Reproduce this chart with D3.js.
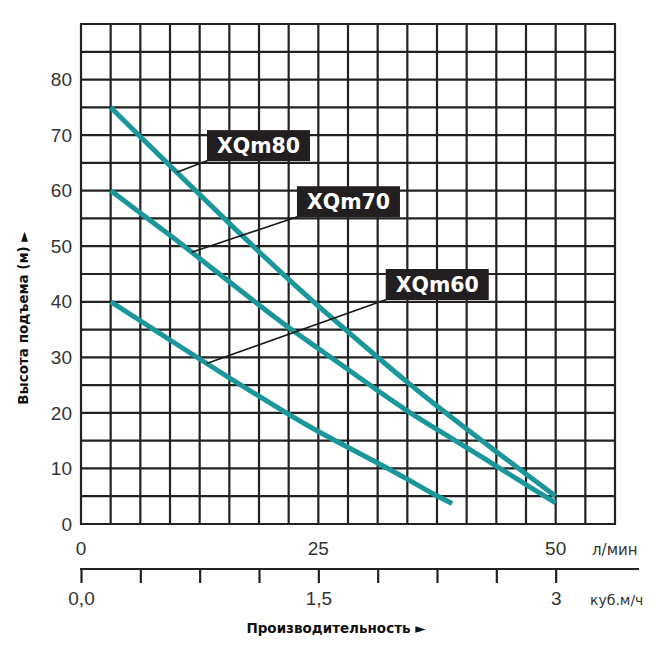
<!DOCTYPE html>
<html>
<head>
<meta charset="utf-8">
<script src="https://cdn.jsdelivr.net/npm/d3@7"></script>
<style>
    body { margin: 0; background: #fff; }
    svg { display: block; }
</style>
</head>
<body>
<div id="chart"></div>
<script>
// curves: flow in l/min, head in m
const flow80 = [3.125, 6.25, 9.375, 12.5, 15.625, 18.75, 21.875, 25, 28.125, 31.25, 34.375, 37.5, 40.625, 43.75, 46.875, 50];
const head80 = [75, 69.7, 64.5, 59.3, 54.1, 49, 44, 39.2, 34.6, 30, 25.5, 21.2, 17.1, 13, 9, 5];

const flow70 = [3.125, 6.25, 9.375, 12.5, 15.625, 18.75, 21.875, 25, 28.125, 31.25, 34.375, 37.5, 40.625, 43.75, 46.875, 50];
const head70 = [60, 56, 52, 47.8, 43.6, 39.4, 35.3, 31.6, 27.8, 24, 20.3, 17, 13.8, 10.4, 7.1, 3.8];

const flow60 = [3.125, 6.25, 9.375, 12.5, 15.625, 18.75, 21.875, 25, 28.125, 31.25, 34.375, 37.5, 39.1];
const head60 = [40, 36.6, 33.1, 29.7, 26.3, 23, 19.7, 16.6, 13.8, 11, 8.1, 5, 3.7];

const seriesNames = ["XQm80", "XQm70", "XQm60"];

const headTicks = [0, 10, 20, 30, 40, 50, 60, 70, 80];
const flowTicks = [0, 25, 50];
const cubicTicks = [0, 0.375, 0.75, 1.125, 1.5, 1.875, 2.25, 2.625, 3];
const cubicTickLabels = ["0,0", "", "", "", "1,5", "", "", "", "3"];

const width = 668;
const height = 652;
const plot = { left: 81, top: 24, right: 615, bottom: 524 };
const teal = "#1b979b";
const ink = "#222";

const x = d3.scaleLinear().domain([0, 56.25]).range([plot.left, plot.right]);
const y = d3.scaleLinear().domain([0, 90]).range([plot.bottom, plot.top]);
const xCubic = d3.scaleLinear().domain([0, 3.375]).range([plot.left, plot.right]);

const svg = d3.select("#chart")
    .append("svg")
    .attr("width", width)
    .attr("height", height);

// grid: one column = 3.125 l/min, one row = 5 m
const grid = svg.append("g").attr("stroke", ink).attr("stroke-width", 2.2);
grid.selectAll("line.v")
    .data(d3.range(0, 56.26, 3.125))
    .enter()
    .append("line")
    .attr("class", "v")
    .attr("x1", d => x(d)).attr("x2", d => x(d))
    .attr("y1", plot.top).attr("y2", plot.bottom);
grid.selectAll("line.h")
    .data(d3.range(0, 90.1, 5))
    .enter()
    .append("line")
    .attr("class", "h")
    .attr("x1", plot.left - 1).attr("x2", plot.right + 1)
    .attr("y1", d => y(d)).attr("y2", d => y(d));

// y tick labels
svg.append("g")
    .selectAll("text")
    .data(headTicks)
    .enter()
    .append("text")
    .attr("x", plot.left - 9)
    .attr("y", d => y(d))
    .attr("dy", "0.35em")
    .attr("text-anchor", "end")
    .style("font", "19px 'Liberation Sans', Arial, sans-serif")
    .attr("fill", "#333")
    .text(d => d);

// l/min labels
svg.append("g")
    .selectAll("text")
    .data(flowTicks)
    .enter()
    .append("text")
    .attr("x", d => x(d))
    .attr("y", plot.bottom + 31)
    .attr("text-anchor", "middle")
    .style("font", "19px 'Liberation Sans', Arial, sans-serif")
    .attr("fill", "#333")
    .text(d => d);

svg.append("text")
    .attr("x", 592)
    .attr("y", plot.bottom + 31)
    .style("font", "15px 'DejaVu Sans', Verdana, sans-serif")
    .attr("fill", "#333")
    .text("л/мин");

// m3/h axis
const cubicAxis = d3.axisBottom(xCubic)
    .tickValues(cubicTicks)
    .tickSize(14)
    .tickSizeOuter(0)
    .tickPadding(9)
    .tickFormat((d, i) => cubicTickLabels[i]);

const gCubic = svg.append("g")
    .attr("transform", `translate(0,${plot.bottom + 45})`)
    .call(cubicAxis);
gCubic.select(".domain").remove();
gCubic.selectAll(".tick line").attr("stroke", ink).attr("stroke-width", 2.2);
gCubic.selectAll(".tick text")
    .attr("fill", "#333")
    .style("font", "19px 'Liberation Sans', Arial, sans-serif");
gCubic.append("line")
    .attr("x1", plot.left - 1).attr("x2", 639)
    .attr("y1", 0).attr("y2", 0)
    .attr("stroke", ink)
    .attr("stroke-width", 2.2);

svg.append("text")
    .attr("x", 590)
    .attr("y", 605)
    .style("font", "14px 'DejaVu Sans', Verdana, sans-serif")
    .attr("fill", "#333")
    .text("куб.м/ч");

// axis titles
svg.append("text")
    .attr("x", 336)
    .attr("y", 633)
    .attr("text-anchor", "middle")
    .style("font", "bold 13.5px 'DejaVu Sans', Verdana, sans-serif")
    .attr("fill", "#111")
    .text("Производительность ►");

svg.append("text")
    .attr("transform", "translate(28,318) rotate(-90)")
    .attr("text-anchor", "middle")
    .style("font", "bold 13.5px 'DejaVu Sans', Verdana, sans-serif")
    .attr("fill", "#111")
    .text("Высота подъема (м) ►");

// pump curves
const curves = [
    { name: seriesNames[0], flow: flow80, head: head80 },
    { name: seriesNames[1], flow: flow70, head: head70 },
    { name: seriesNames[2], flow: flow60, head: head60 }
];

const line = d3.line()
    .x(d => x(d[0]))
    .y(d => y(d[1]))
    .curve(d3.curveBasis);

svg.append("g")
    .selectAll("path")
    .data(curves)
    .enter()
    .append("path")
    .attr("d", d => line(d3.zip(d.flow, d.head)))
    .attr("fill", "none")
    .attr("stroke", teal)
    .attr("stroke-width", 5);

// callouts: box corner and pointer given in data units
const callouts = [
    { boxX: 13.27, boxY: 70.9, pointX: 10.1 },
    { boxX: 22.75, boxY: 60.8, pointX: 11.66 },
    { boxX: 32.1, boxY: 45.9, pointX: 13.24 }
];
const boxW = 103, boxH = 31;

function headAt(c, f) {
    const i = d3.bisectLeft(c.flow, f);
    const t = (f - c.flow[i - 1]) / (c.flow[i] - c.flow[i - 1]);
    return c.head[i - 1] + t * (c.head[i] - c.head[i - 1]);
}

const gCall = svg.append("g");
callouts.forEach((o, i) => {
    const c = curves[i];
    const bx = x(o.boxX), by = y(o.boxY);
    gCall.append("line")
        .attr("x1", bx + 2).attr("y1", by + boxH - 1)
        .attr("x2", x(o.pointX)).attr("y2", y(headAt(c, o.pointX)))
        .attr("stroke", "#1a1a1a")
        .attr("stroke-width", 1.6);
    gCall.append("rect")
        .attr("x", bx).attr("y", by)
        .attr("width", boxW).attr("height", boxH)
        .attr("fill", "#231f20");
    gCall.append("text")
        .attr("x", bx + boxW / 2)
        .attr("y", by + boxH / 2)
        .attr("dy", "0.36em")
        .attr("text-anchor", "middle")
        .style("font", "bold 20.5px 'DejaVu Sans', Verdana, sans-serif")
        .attr("fill", "#fff")
        .text(c.name);
});
</script>
</body>
</html>
